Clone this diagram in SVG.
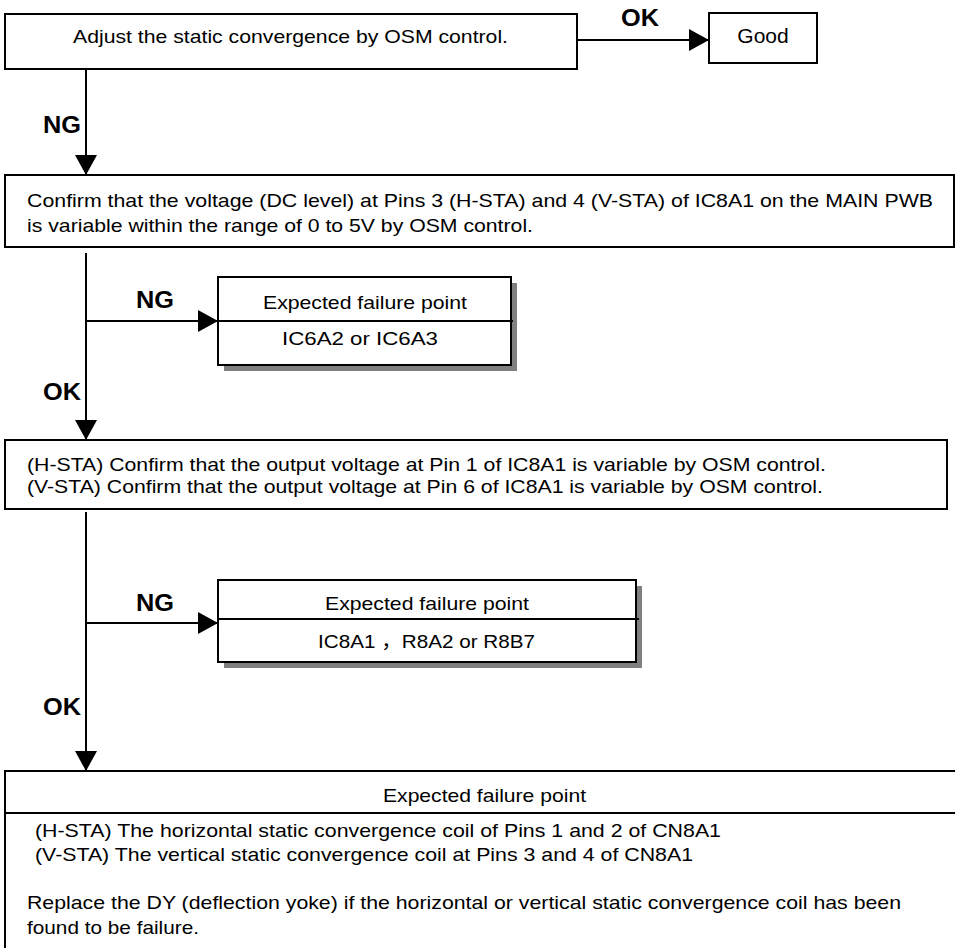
<svg xmlns="http://www.w3.org/2000/svg" width="955" height="948" viewBox="0 0 955 948">
<defs>
<style>
.box{fill:#fff;stroke:#000;stroke-width:2}
.shadow{fill:#808080;stroke:none}
.conn{fill:none;stroke:#000;stroke-width:2}
.t{font-family:"Liberation Sans",Arial,"Noto Sans CJK JP",sans-serif;font-size:19px;fill:#000}
.lbl{font-family:"Liberation Sans",Arial,sans-serif;font-size:23.5px;font-weight:bold;fill:#000}
</style>
<marker id="ah" markerUnits="userSpaceOnUse" markerWidth="20" markerHeight="22" refX="20" refY="11" orient="auto">
<path d="M0,0 L20,11 L0,22 Z" fill="#000"/>
</marker>
</defs>
<rect width="955" height="948" fill="#fff"/>

<g id="connectors">
<line class="conn" x1="577" y1="40" x2="709" y2="40" marker-end="url(#ah)"/>
<line class="conn" x1="86" y1="69" x2="86" y2="175" marker-end="url(#ah)"/>
<line class="conn" x1="86" y1="253" x2="86" y2="440" marker-end="url(#ah)"/>
<line class="conn" x1="86" y1="321" x2="218" y2="321" marker-end="url(#ah)"/>
<line class="conn" x1="86" y1="512" x2="86" y2="771" marker-end="url(#ah)"/>
<line class="conn" x1="86" y1="623" x2="218" y2="623" marker-end="url(#ah)"/>
<text class="lbl" x="621" y="26" textLength="38" lengthAdjust="spacingAndGlyphs">OK</text>
<text class="lbl" x="43" y="133" textLength="38" lengthAdjust="spacingAndGlyphs">NG</text>
<text class="lbl" x="136" y="308" textLength="38" lengthAdjust="spacingAndGlyphs">NG</text>
<text class="lbl" x="43" y="400" textLength="38" lengthAdjust="spacingAndGlyphs">OK</text>
<text class="lbl" x="136" y="611" textLength="38" lengthAdjust="spacingAndGlyphs">NG</text>
<text class="lbl" x="43" y="715" textLength="38" lengthAdjust="spacingAndGlyphs">OK</text>
</g>

<g id="adjust">
<rect class="box" x="5" y="14" width="572" height="55"/>
<text class="t" x="73" y="43" textLength="435" lengthAdjust="spacingAndGlyphs">Adjust the static convergence by OSM control.</text>
</g>

<g id="good">
<rect class="box" x="709" y="13" width="108" height="50"/>
<text class="t" x="763" y="43" text-anchor="middle" style="font-size:21px">Good</text>
</g>

<g id="confirm-dc">
<rect class="box" x="5" y="175" width="949" height="72"/>
<text class="t" x="27" y="207" textLength="906" lengthAdjust="spacingAndGlyphs">Confirm that the voltage (DC level) at Pins 3 (H-STA) and 4 (V-STA) of IC8A1 on the MAIN PWB</text>
<text class="t" x="27" y="232" textLength="506" lengthAdjust="spacingAndGlyphs">is variable within the range of 0 to 5V by OSM control.</text>
</g>

<g id="failure1">
<rect class="shadow" x="224" y="283" width="293" height="88"/>
<rect class="box" x="218" y="277" width="293" height="88"/>
<line class="conn" x1="218" y1="321" x2="513" y2="321"/>
<text class="t" x="263" y="309" textLength="204" lengthAdjust="spacingAndGlyphs">Expected failure point</text>
<text class="t" x="282" y="345" textLength="156" lengthAdjust="spacingAndGlyphs">IC6A2 or IC6A3</text>
</g>

<g id="confirm-output">
<rect class="box" x="5" y="440" width="942" height="69"/>
<text class="t" x="27" y="471" textLength="799" lengthAdjust="spacingAndGlyphs">(H-STA) Confirm that the output voltage at Pin 1 of IC8A1 is variable by OSM control.</text>
<text class="t" x="27" y="493" textLength="796" lengthAdjust="spacingAndGlyphs">(V-STA) Confirm that the output voltage at Pin 6 of IC8A1 is variable by OSM control.</text>
</g>

<g id="failure2">
<rect class="shadow" x="224" y="586" width="418" height="82"/>
<rect class="box" x="218" y="580" width="418" height="82"/>
<line class="conn" x1="218" y1="619" x2="639" y2="619"/>
<text class="t" x="325" y="610" textLength="204" lengthAdjust="spacingAndGlyphs">Expected failure point</text>
<text class="t" x="318" y="648" textLength="217" lengthAdjust="spacingAndGlyphs">IC8A1 ，R8A2 or R8B7</text>
</g>

<g id="failure3">
<rect class="box" x="5" y="771" width="970" height="200"/>
<line class="conn" x1="5" y1="813" x2="975" y2="813"/>
<text class="t" x="383" y="802" textLength="203" lengthAdjust="spacingAndGlyphs">Expected failure point</text>
<text class="t" x="35" y="837" textLength="686" lengthAdjust="spacingAndGlyphs">(H-STA) The horizontal static convergence coil of Pins 1 and 2 of CN8A1</text>
<text class="t" x="35" y="861" textLength="658" lengthAdjust="spacingAndGlyphs">(V-STA) The vertical static convergence coil at Pins 3 and 4 of CN8A1</text>
<text class="t" x="27" y="909" textLength="874" lengthAdjust="spacingAndGlyphs">Replace the DY (deflection yoke) if the horizontal or vertical static convergence coil has been</text>
<text class="t" x="27" y="934" textLength="172" lengthAdjust="spacingAndGlyphs">found to be failure.</text>
</g>
</svg>
